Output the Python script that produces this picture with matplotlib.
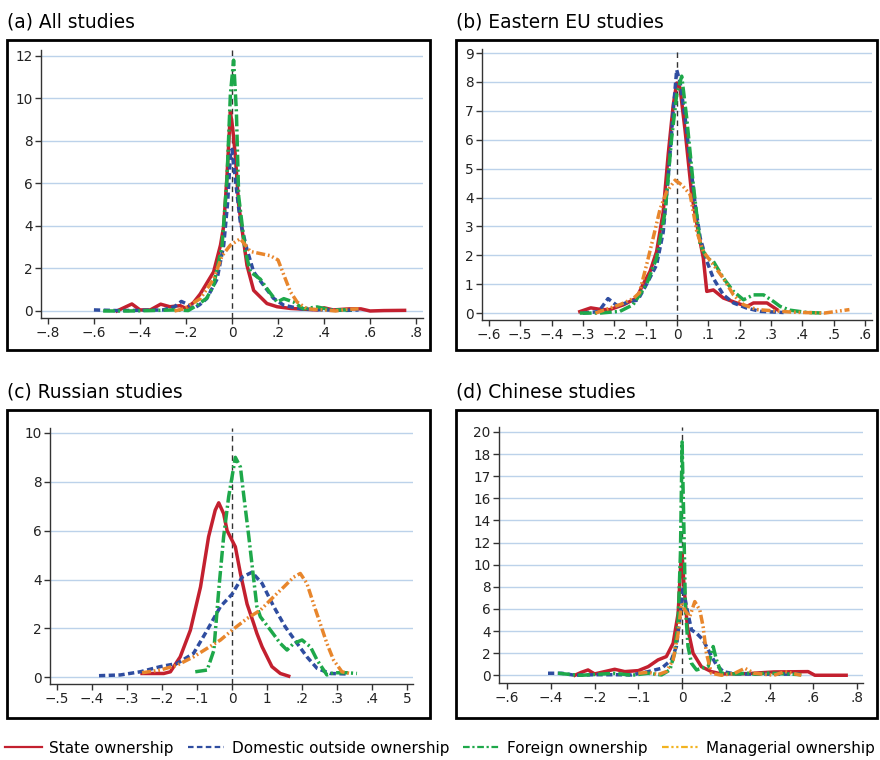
import numpy as np
import matplotlib
matplotlib.use('Agg')
import matplotlib.pyplot as plt
from matplotlib.lines import Line2D
from matplotlib.patches import Rectangle

# ---- (a) All studies
a_state_x = [-0.50, -0.435, -0.40, -0.355, -0.31, -0.27, -0.225, -0.20, -0.167, -0.138, -0.08, -0.05, -0.036, -0.022, -0.007, 0.003, 0.0145, 0.029, 0.065, 0.094, 0.152, 0.196, 0.254, 0.37, 0.40, 0.44, 0.51, 0.56, 0.60, 0.66, 0.75]
a_state_y = [0.0, 0.33, 0.05, 0.05, 0.32, 0.2, 0.25, 0.12, 0.4, 0.8, 1.84, 3.1, 4.0, 6.3, 9.37, 8.6, 7.3, 5.0, 2.15, 0.97, 0.35, 0.2, 0.12, 0.05, 0.15, 0.05, 0.1, 0.1, 0.0, 0.02, 0.03]
a_dom_x = [-0.60, -0.50, -0.40, -0.30, -0.25, -0.22, -0.19, -0.167, -0.14, -0.11, -0.065, -0.036, -0.019, -0.007, 0.0, 0.0145, 0.036, 0.065, 0.094, 0.138, 0.18, 0.225, 0.30, 0.40, 0.50, 0.55]
a_dom_y = [0.05, 0.02, 0.03, 0.05, 0.2, 0.45, 0.3, 0.12, 0.3, 0.58, 1.5, 3.1, 5.1, 7.3, 7.6, 6.2, 4.2, 2.9, 1.84, 1.2, 0.6, 0.27, 0.1, 0.05, 0.03, 0.05]
a_for_x = [-0.56, -0.45, -0.35, -0.25, -0.19, -0.152, -0.11, -0.08, -0.043, -0.022, -0.007, 0.007, 0.019, 0.029, 0.058, 0.08, 0.123, 0.152, 0.196, 0.225, 0.268, 0.31, 0.37, 0.43, 0.52]
a_for_y = [0.0, 0.0, 0.02, 0.05, 0.02, 0.27, 0.6, 1.2, 3.1, 6.2, 10.2, 11.8, 9.4, 5.4, 2.8, 1.84, 1.5, 1.05, 0.42, 0.58, 0.42, 0.1, 0.19, 0.05, 0.05]
a_man_x = [-0.25, -0.21, -0.138, -0.08, -0.043, -0.007, 0.036, 0.08, 0.123, 0.167, 0.20, 0.225, 0.254, 0.283, 0.326, 0.40, 0.45, 0.50, 0.55]
a_man_y = [0.0, 0.1, 0.58, 1.5, 2.6, 3.1, 3.4, 2.8, 2.7, 2.6, 2.4, 1.7, 0.9, 0.42, 0.1, 0.05, 0.0, 0.08, 0.1]

# ---- (b) Eastern EU studies
b_state_x = [-0.31, -0.275, -0.24, -0.214, -0.17, -0.129, -0.108, -0.086, -0.065, -0.044, -0.028, -0.012, -0.001, 0.0096, 0.026, 0.047, 0.068, 0.084, 0.095, 0.116, 0.148, 0.19, 0.223, 0.244, 0.287, 0.319]
b_state_y = [0.05, 0.18, 0.12, 0.12, 0.29, 0.52, 1.0, 1.44, 2.13, 3.5, 5.5, 7.2, 7.96, 7.8, 6.3, 4.1, 2.8, 1.9, 0.75, 0.8, 0.52, 0.35, 0.23, 0.35, 0.35, 0.12]
b_dom_x = [-0.30, -0.25, -0.22, -0.19, -0.15, -0.125, -0.097, -0.065, -0.044, -0.028, -0.012, -0.001, 0.0096, 0.026, 0.042, 0.058, 0.074, 0.095, 0.116, 0.148, 0.18, 0.223, 0.265, 0.34]
b_dom_y = [0.0, 0.05, 0.5, 0.25, 0.4, 0.45, 1.0, 1.67, 2.8, 4.7, 7.0, 8.42, 8.0, 6.75, 5.25, 3.75, 2.6, 1.8, 1.2, 0.63, 0.35, 0.17, 0.06, 0.02]
b_for_x = [-0.31, -0.246, -0.182, -0.14, -0.097, -0.065, -0.038, -0.017, -0.001, 0.015, 0.031, 0.052, 0.074, 0.095, 0.116, 0.148, 0.18, 0.212, 0.244, 0.276, 0.308, 0.329, 0.36, 0.415, 0.468]
b_for_y = [0.0, 0.0, 0.06, 0.29, 1.0, 1.9, 3.5, 6.06, 7.56, 8.2, 6.75, 4.44, 2.37, 1.9, 1.79, 1.21, 0.75, 0.46, 0.63, 0.63, 0.4, 0.23, 0.1, 0.02, 0.0]
b_man_x = [-0.26, -0.18, -0.14, -0.12, -0.097, -0.076, -0.054, -0.033, -0.006, 0.015, 0.042, 0.063, 0.084, 0.116, 0.148, 0.18, 0.212, 0.255, 0.37, 0.47, 0.55]
b_man_y = [0.0, 0.3, 0.5, 0.7, 1.67, 2.6, 3.6, 4.2, 4.6, 4.44, 4.1, 2.83, 2.13, 1.67, 1.2, 0.63, 0.29, 0.12, 0.03, 0.0, 0.12]

# ---- (c) Russian studies
c_state_x = [-0.257, -0.195, -0.176, -0.148, -0.119, -0.09, -0.067, -0.048, -0.038, -0.024, -0.014, 0.0095, 0.024, 0.043, 0.062, 0.071, 0.086, 0.114, 0.138, 0.162]
c_state_y = [0.16, 0.16, 0.23, 0.84, 1.93, 3.7, 5.75, 6.84, 7.14, 6.7, 6.0, 5.34, 4.25, 3.0, 2.2, 1.8, 1.25, 0.44, 0.16, 0.05]
c_dom_x = [-0.38, -0.319, -0.262, -0.205, -0.157, -0.11, -0.071, -0.033, 0.0, 0.029, 0.057, 0.086, 0.119, 0.152, 0.186, 0.214, 0.243, 0.28, 0.329]
c_dom_y = [0.07, 0.1, 0.23, 0.44, 0.57, 0.98, 1.93, 2.9, 3.4, 4.1, 4.3, 3.84, 2.9, 2.07, 1.39, 0.84, 0.37, 0.16, 0.14]
c_for_x = [-0.105, -0.071, -0.052, -0.038, -0.024, -0.0095, 0.0095, 0.024, 0.033, 0.048, 0.062, 0.071, 0.081, 0.11, 0.138, 0.157, 0.176, 0.20, 0.224, 0.243, 0.271, 0.29, 0.329, 0.357]
c_for_y = [0.23, 0.3, 1.1, 3.57, 5.75, 7.4, 9.0, 8.6, 7.5, 5.75, 4.0, 2.9, 2.48, 1.93, 1.39, 1.12, 1.39, 1.53, 1.25, 0.71, 0.1, 0.19, 0.19, 0.16]
c_man_x = [-0.257, -0.205, -0.157, -0.11, -0.071, -0.033, 0.0, 0.043, 0.081, 0.119, 0.148, 0.176, 0.195, 0.214, 0.233, 0.252, 0.271, 0.29, 0.314, 0.338]
c_man_y = [0.19, 0.3, 0.5, 0.84, 1.19, 1.53, 1.93, 2.41, 2.75, 3.3, 3.7, 4.1, 4.25, 3.84, 3.0, 2.2, 1.39, 0.71, 0.23, 0.16]

# ---- (d) Chinese studies (values in axis-position units, ticks labelled as in original)
d_state_x = [-0.49, -0.46, -0.43, -0.40, -0.308, -0.262, -0.20, -0.155, -0.11, -0.072, -0.041, -0.018, -0.006, 0.0, 0.009, 0.024, 0.05, 0.088, 0.134, 0.18, 0.30, 0.42, 0.576, 0.607, 0.75]
d_state_y = [0.0, 0.27, 0.48, 0.12, 0.54, 0.33, 0.42, 0.78, 1.39, 1.69, 2.9, 5.6, 10.1, 11.0, 8.0, 4.4, 2.0, 0.78, 0.33, 0.12, 0.15, 0.3, 0.33, 0.0, 0.0]
d_dom_x = [-0.613, -0.55, -0.49, -0.40, -0.30, -0.23, -0.155, -0.094, -0.049, -0.026, -0.011, 0.0046, 0.02, 0.043, 0.066, 0.096, 0.127, 0.157, 0.188, 0.24, 0.35, 0.45, 0.545]
d_dom_y = [0.18, 0.18, 0.0, 0.05, 0.05, 0.03, 0.33, 0.63, 1.39, 2.6, 5.0, 8.0, 6.2, 4.1, 3.8, 3.2, 2.0, 0.93, 0.33, 0.12, 0.1, 0.1, 0.1]
d_for_x = [-0.567, -0.50, -0.46, -0.308, -0.23, -0.155, -0.094, -0.056, -0.034, -0.018, -0.0076, 0.0, 0.0076, 0.015, 0.027, 0.043, 0.066, 0.088, 0.119, 0.142, 0.157, 0.18, 0.24, 0.30, 0.33, 0.39, 0.50, 0.545]
d_for_y = [0.18, 0.05, 0.0, 0.18, 0.0, 0.18, 0.03, 0.48, 2.0, 5.0, 11.0, 21.1, 14.0, 6.2, 2.6, 1.08, 0.48, 0.63, 0.78, 2.6, 1.4, 0.18, 0.12, 0.18, 0.1, 0.2, 0.1, 0.05]
d_man_x = [-0.20, -0.155, -0.11, -0.072, -0.041, -0.018, -0.003, 0.012, 0.035, 0.058, 0.081, 0.096, 0.111, 0.134, 0.18, 0.24, 0.287, 0.33, 0.42, 0.47, 0.545]
d_man_y = [0.18, 0.27, 0.06, 0.33, 1.39, 3.8, 6.5, 5.9, 5.3, 6.66, 5.9, 4.4, 2.0, 0.18, 0.0, 0.18, 0.63, 0.18, 0.0, 0.33, 0.0]

titles = ['(a) All studies', '(b) Eastern EU studies', '(c) Russian studies', '(d) Chinese studies']
labels = ['State ownership', 'Domestic outside ownership', 'Foreign ownership', 'Managerial ownership']

a_xticks = ['\u2212.8', '\u2212.6', '\u2212.4', '\u2212.2', '0', '.2', '.4', '.6', '.8']
a_yticks = ['0', '2', '4', '6', '8', '10', '12']
b_xticks = ['\u2212.6', '\u2212.5', '\u2212.4', '\u2212.3', '\u2212.2', '\u2212.1', '0', '.1', '.2', '.3', '.4', '.5', '.6']
b_yticks = ['0', '1', '2', '3', '4', '5', '6', '7', '8', '9']
c_xticks = ['\u2212.5', '\u2212.4', '\u2212.3', '\u2212.2', '\u2212.1', '0', '1', '.2', '.3', '.4', '5']
c_yticks = ['0', '2', '4', '6', '8', '10']
d_xticks = ['\u2212.6', '\u2212.4', '\u2212.2', '\u2212.1', '0', '.2', '.4', '.6', '.8']
d_yticks = ['0', '2', '4', '6', '8', '10', '12', '14', '16', '17', '18', '20']

colors = ['#C3202F', '#2F4DA0', '#1EA84A', '#E8862C']
styles = ['-', (0, (1.8, 1.0)), (0, (3.4, 0.9, 0.6, 0.9)), (0, (2.6, 0.8, 0.5, 0.8, 0.5, 0.8))]

W, H = 880, 760
fig = plt.figure(figsize=(W / 100, H / 100), dpi=100)

def rect(l, t, r, b):
    return [l / W, 1 - b / H, (r - l) / W, (b - t) / H]

# pixel boxes: frame, axes, xlim, ylim, ticks
panels = [
    dict(frame=(7, 40, 430, 350), ax=(41, 50, 423, 318), xlim=(-0.830, 0.830), ylim=(-0.33, 12.28),
         xt=np.arange(-0.8, 0.81, 0.2), xl=a_xticks, yt=np.arange(0, 13, 2), yl=a_yticks,
         data=[(a_state_x, a_state_y), (a_dom_x, a_dom_y), (a_for_x, a_for_y), (a_man_x, a_man_y)]),
    dict(frame=(456, 40, 877, 350), ax=(482, 49, 872, 320), xlim=(-0.622, 0.622), ylim=(-0.24, 9.14),
         xt=np.arange(-0.6, 0.61, 0.1), xl=b_xticks, yt=np.arange(0, 10, 1), yl=b_yticks,
         data=[(b_state_x, b_state_y), (b_dom_x, b_dom_y), (b_for_x, b_for_y), (b_man_x, b_man_y)]),
    dict(frame=(7, 410, 430, 718), ax=(50, 428, 413, 684), xlim=(-0.52, 0.517), ylim=(-0.27, 10.2),
         xt=np.arange(-0.5, 0.51, 0.1), xl=c_xticks, yt=np.arange(0, 11, 2), yl=c_yticks,
         data=[(c_state_x, c_state_y), (c_dom_x, c_dom_y), (c_for_x, c_for_y), (c_man_x, c_man_y)]),
    dict(frame=(456, 410, 877, 718), ax=(499, 427, 863, 683), xlim=(-0.837, 0.827), ylim=(-0.7, 22.45),
         xt=np.arange(-0.8, 0.81, 0.2), xl=d_xticks, yt=np.arange(0, 23, 2), yl=d_yticks,
         data=[(d_state_x, d_state_y), (d_dom_x, d_dom_y), (d_for_x, d_for_y), (d_man_x, d_man_y)]),
]

for p, title in zip(panels, titles):
    l, t, r, b = p['frame']
    fig.patches.append(Rectangle((l / W, 1 - b / H), (r - l) / W, (b - t) / H, transform=fig.transFigure,
                                 fill=False, edgecolor='black', linewidth=2.0))
    fig.text(l / W, 1 - (t - 13) / H, title, fontsize=13.4, ha='left', va='baseline')
    ax = fig.add_axes(rect(*p['ax']))
    ax.set_xlim(p['xlim'])
    ax.set_ylim(p['ylim'])
    for s in ['top', 'right']:
        ax.spines[s].set_visible(False)
    for s in ['left', 'bottom']:
        ax.spines[s].set_color('#333333')
        ax.spines[s].set_linewidth(1.0)
    ax.set_xticks(p['xt'])
    ax.set_xticklabels(p['xl'])
    ax.set_yticks(p['yt'])
    ax.set_yticklabels(p['yl'])
    ax.tick_params(direction='out', length=4, width=1, color='#333333', labelsize=9.8, labelcolor='#222222', pad=2)
    for yv in p['yt']:
        ax.axhline(yv, color='#BCD2EA', linewidth=1.0, zorder=0)
    ax.axvline(0, color='#333333', linewidth=1.0, linestyle=(0, (4, 3)), zorder=1)
    for (xs, ys), c, ls in zip(p['data'], colors, styles):
        ax.plot(xs, ys, color=c, linestyle=ls, linewidth=2.5, zorder=3)

handles = [Line2D([], [], color=c, linestyle=ls, linewidth=1.6) for c, ls in
           zip(['#C3202F', '#2F4DA0', '#1EA84A', '#F2B320'],
               ['-', (0, (2.5, 1.5)), (0, (3, 1.2, 1, 1.2)), (0, (3, 1.2, 1, 1.2, 1, 1.2))])]
fig.legend(handles, labels, loc='center', bbox_to_anchor=(0.5, 1 - 748 / H), ncol=4, frameon=False,
           fontsize=11, handlelength=2.4, handletextpad=0.5, columnspacing=0.9, borderaxespad=0)

fig.savefig('out.png', dpi=100)
